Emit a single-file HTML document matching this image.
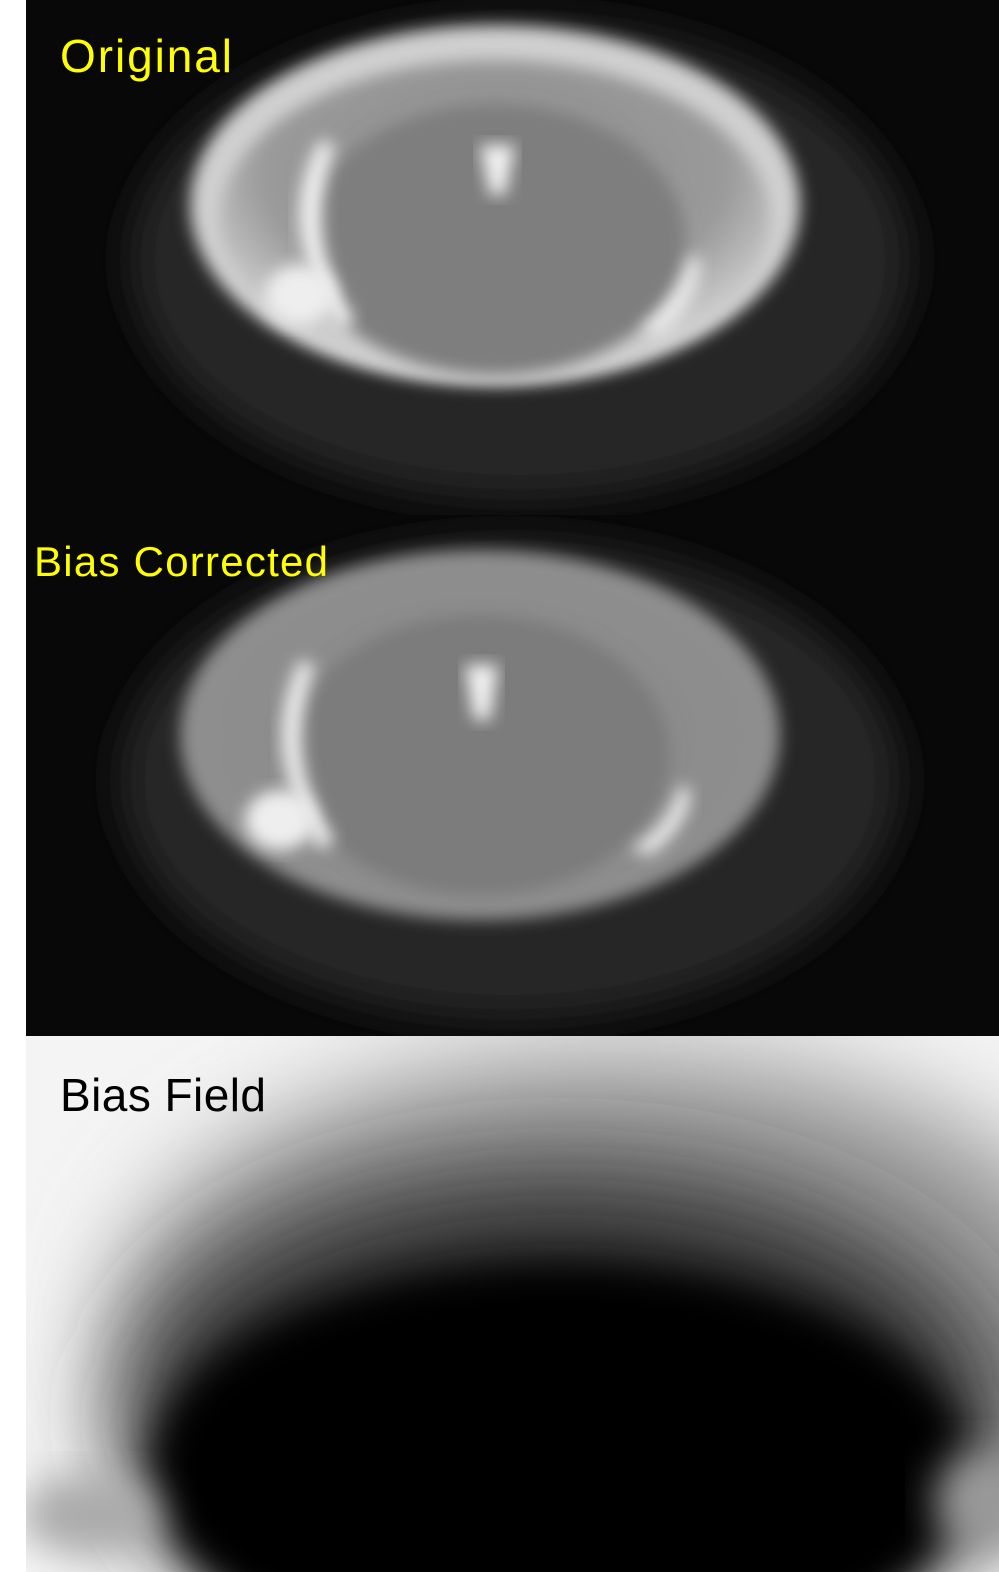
<!DOCTYPE html>
<html><head><meta charset="utf-8"><style>
html,body{margin:0;padding:0;background:#fff;width:999px;height:1572px;overflow:hidden}
svg{display:block;position:absolute;left:0;top:0}
text{font-family:"Liberation Sans",sans-serif}
</style></head><body>
<svg width="999" height="1572" viewBox="0 0 999 1572">
<defs>
<filter id="b8" x="-20%" y="-20%" width="140%" height="140%"><feGaussianBlur stdDeviation="8"/></filter>
<filter id="b20" x="-30%" y="-30%" width="160%" height="160%"><feGaussianBlur stdDeviation="20"/></filter>
<filter id="b50" x="-50%" y="-50%" width="200%" height="200%"><feGaussianBlur stdDeviation="50"/></filter>
<radialGradient id="brain1" cx="0.5" cy="0.35" r="0.6">
<stop offset="0" stop-color="#8a8a8a"/><stop offset="0.7" stop-color="#9a9a9a"/><stop offset="1" stop-color="#d0d0d0"/></radialGradient>
<radialGradient id="brain2" cx="0.5" cy="0.5" r="0.6">
<stop offset="0" stop-color="#888"/><stop offset="0.8" stop-color="#8e8e8e"/><stop offset="1" stop-color="#a0a0a0"/></radialGradient>
<clipPath id="c1"><rect x="26" y="0" width="973" height="515"/></clipPath>
<clipPath id="c2"><rect x="26" y="515" width="973" height="521"/></clipPath>
<clipPath id="c3"><rect x="26" y="1036" width="973" height="536"/></clipPath>
</defs>

<g clip-path="url(#c1)">
<rect x="26" y="0" width="973" height="515" fill="#080808"/>
<ellipse cx="520" cy="260" rx="390" ry="240" fill="#262626" filter="url(#b20)"/>
<ellipse cx="495" cy="205" rx="305" ry="180" fill="#d0d0d0" filter="url(#b8)"/>
<ellipse cx="495" cy="220" rx="275" ry="160" fill="url(#brain1)" filter="url(#b8)"/>
<ellipse cx="495" cy="240" rx="190" ry="135" fill="#7e7e7e" filter="url(#b8)"/>
<path d="M320 140 Q270 230 340 330 L355 320 Q300 240 335 145 Z" fill="#f2f2f2" filter="url(#b8)"/>
<ellipse cx="300" cy="295" rx="35" ry="30" fill="#eee" filter="url(#b8)"/>
<path d="M690 255 Q680 300 640 330 L660 335 Q700 300 700 260 Z" fill="#eee" filter="url(#b8)"/>
<path d="M480 145 L515 145 L505 195 L490 195 Z" fill="#fff" filter="url(#b8)" opacity="0.9"/>
<text x="60" y="72" font-size="46" fill="#ffff00" textLength="172">Original</text>
</g>

<g clip-path="url(#c2)">
<rect x="26" y="515" width="973" height="521" fill="#080808"/>
<ellipse cx="510" cy="780" rx="390" ry="240" fill="#262626" filter="url(#b20)"/>
<ellipse cx="480" cy="735" rx="300" ry="185" fill="url(#brain2)" filter="url(#b8)"/>
<ellipse cx="480" cy="755" rx="190" ry="140" fill="#7c7c7c" filter="url(#b8)"/>
<path d="M300 660 Q255 750 320 850 L335 840 Q280 760 315 665 Z" fill="#eee" filter="url(#b8)"/>
<ellipse cx="280" cy="820" rx="35" ry="30" fill="#eee" filter="url(#b8)"/>
<path d="M680 785 Q670 825 630 850 L650 855 Q690 825 690 790 Z" fill="#eee" filter="url(#b8)"/>
<path d="M465 665 L498 665 L490 720 L474 720 Z" fill="#fff" filter="url(#b8)" opacity="0.9"/>
<text x="34" y="576" font-size="42" fill="#ffff00" textLength="294">Bias Corrected</text>
</g>

<g clip-path="url(#c3)">
<rect x="26" y="1036" width="973" height="536" fill="#f4f4f4"/>
<ellipse cx="620" cy="1330" rx="500" ry="280" fill="#999" filter="url(#b50)"/>
<ellipse cx="560" cy="1420" rx="440" ry="250" fill="#333" filter="url(#b50)"/>
<ellipse cx="560" cy="1470" rx="410" ry="210" fill="#000" filter="url(#b20)"/>
<ellipse cx="90" cy="1515" rx="70" ry="40" fill="#aaa" filter="url(#b20)"/>
<ellipse cx="985" cy="1500" rx="50" ry="50" fill="#999" filter="url(#b20)"/>
<text x="60" y="1111" font-size="46" fill="#000" textLength="206">Bias Field</text>
</g>
</svg>
</body></html>
